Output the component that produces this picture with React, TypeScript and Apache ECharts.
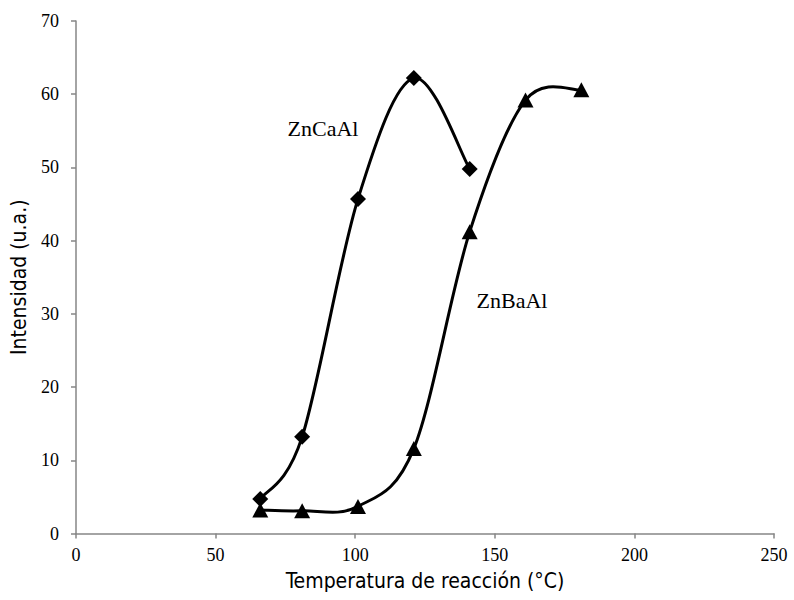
import React, { useEffect, useRef } from "react";
import * as echarts from "echarts";

const tempsCa = [66, 81, 101, 121, 141];
const valuesCa = [4.7, 13.2, 45.7, 62.2, 49.8];
const tempsBa = [66, 81, 101, 121, 141, 161, 181];
const valuesBa = [3.2, 3.1, 3.7, 11.6, 41.2, 59.2, 60.6];
const seriesNames = ["ZnCaAl", "ZnBaAl"];
const xTitle = "Temperatura de reacción (°C)";
const yTitle = "Intensidad (u.a.)";

function smoothRenderer(xs: number[], ys: number[]) {
  return (params: any, api: any) => {
    if (params.dataIndex !== 0) return null;
    const p = xs.map((x, i) => api.coord([x, ys[i]]));
    const n = p.length;
    let d = `M${p[0][0]},${p[0][1]}`;
    for (let i = 0; i < n - 1; i++) {
      const p0 = p[Math.max(0, i - 1)];
      const p1 = p[i];
      const p2 = p[i + 1];
      const p3 = p[Math.min(n - 1, i + 2)];
      const c1x = p1[0] + (p2[0] - p0[0]) / 6;
      const c1y = p1[1] + (p2[1] - p0[1]) / 6;
      const c2x = p2[0] - (p3[0] - p1[0]) / 6;
      const c2y = p2[1] - (p3[1] - p1[1]) / 6;
      d += ` C${c1x},${c1y} ${c2x},${c2y} ${p2[0]},${p2[1]}`;
    }
    return {
      type: "path",
      shape: { pathData: d },
      style: { stroke: "#000", lineWidth: 3, fill: "none" },
    };
  };
}

export default function App() {
  const ref = useRef<HTMLDivElement>(null);
  useEffect(() => {
    if (!ref.current) return;
    const chart = echarts.init(ref.current, null, { renderer: "svg" });
    const axisLine = { show: true, lineStyle: { color: "#868686", width: 1.5 } };
    const tickLabel = { fontFamily: "Liberation Serif", fontSize: 18, color: "#000" };
    const titleFont = { fontFamily: "DejaVu Sans Condensed, Liberation Sans, sans-serif", fontSize: 21, color: "#000" };
    const caData = tempsCa.map((t, i) => [t, valuesCa[i]]);
    const baData = tempsBa.map((t, i) => [t, valuesBa[i]]);
    chart.setOption({
      animation: false,
      backgroundColor: "#fff",
      grid: { left: 74, right: 20, top: 21, bottom: 66.5, containLabel: false },
      xAxis: {
        type: "value",
        min: 0,
        max: 250,
        interval: 50,
        axisLine,
        axisTick: { show: true, inside: false, length: 5, lineStyle: { color: "#868686", width: 1.5 } },
        axisLabel: { ...tickLabel, margin: 12 },
        splitLine: { show: false },
        name: xTitle,
        nameLocation: "middle",
        nameGap: 37,
        nameTextStyle: titleFont,
      },
      yAxis: {
        type: "value",
        min: 0,
        max: 70,
        interval: 10,
        axisLine,
        axisTick: { show: true, inside: false, length: 5, lineStyle: { color: "#868686", width: 1.5 } },
        axisLabel: { ...tickLabel, margin: 17 },
        splitLine: { show: false },
        name: yTitle,
        nameLocation: "middle",
        nameGap: 47,
        nameTextStyle: titleFont,
      },
      series: [
        {
          name: seriesNames[0] + " curve",
          type: "custom",
          renderItem: smoothRenderer(tempsCa, valuesCa),
          data: caData,
          z: 2,
          silent: true,
        },
        {
          name: seriesNames[1] + " curve",
          type: "custom",
          renderItem: smoothRenderer(tempsBa, valuesBa),
          data: baData,
          z: 2,
          silent: true,
        },
        {
          name: seriesNames[0],
          type: "scatter",
          data: caData,
          symbol: "diamond",
          symbolSize: 16,
          itemStyle: { color: "#000", opacity: 1 },
          z: 3,
        },
        {
          name: seriesNames[1],
          type: "scatter",
          data: baData,
          symbol: "triangle",
          symbolSize: [16, 15],
          itemStyle: { color: "#000", opacity: 1 },
          z: 3,
        },
      ],
      graphic: [
        {
          type: "text",
          x: 323,
          y: 128,
          style: { text: seriesNames[0], fontFamily: "Liberation Serif", fontSize: 22, fill: "#000", align: "center", verticalAlign: "middle" },
        },
        {
          type: "text",
          x: 512,
          y: 300,
          style: { text: seriesNames[1], fontFamily: "Liberation Serif", fontSize: 22, fill: "#000", align: "center", verticalAlign: "middle" },
        },
      ],
    });
    return () => chart.dispose();
  }, []);
  return <div ref={ref} style={{ width: 794, height: 600, position: "absolute", left: 0, top: 0 }} />;
}
